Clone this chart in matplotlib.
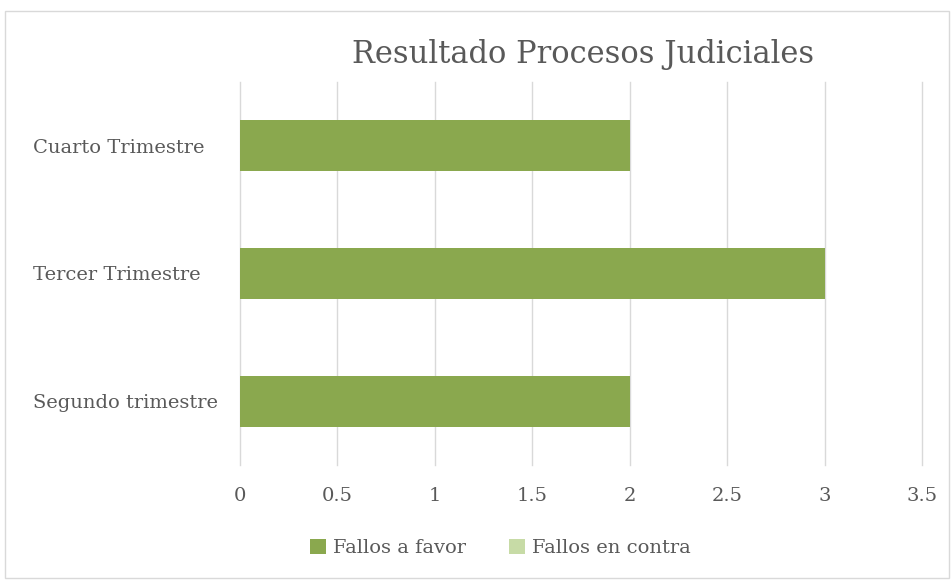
import matplotlib.pyplot as plt
from matplotlib.patches import Rectangle

# Datos
trimestres = ["Segundo trimestre", "Tercer Trimestre", "Cuarto Trimestre"]
fallos_favor = [2, 3, 2]
fallos_contra = [0, 0, 0]
ticks_x = [0, 0.5, 1, 1.5, 2, 2.5, 3, 3.5]

plt.rcParams['font.family'] = ['DejaVu Serif']
gris = '#595959'

fig = plt.figure(figsize=(9.53, 5.83), dpi=100)
ax = fig.add_axes([240 / 953, 1 - 465 / 583, (922 - 240) / 953, (465 - 82) / 583])

# Marco del gráfico
fig.patches.append(Rectangle((5 / 953, 5 / 583), 944 / 953, 567 / 583, transform=fig.transFigure,
                             fill=False, edgecolor='#d9d9d9', linewidth=1))

y = list(range(len(trimestres)))
ax.barh(y, fallos_favor, height=0.4, color='#8aa84e', label='Fallos a favor', zorder=3)
ax.barh(y, fallos_contra, height=0.4, left=fallos_favor, color='#c7dba6', label='Fallos en contra', zorder=3)

ax.set_xlim(0, 3.5)
ax.set_ylim(-0.5, 2.5)
ax.set_xticks(ticks_x)
ax.set_xticklabels([f"{t:g}" for t in ticks_x])
ax.set_yticks(y)
ax.set_yticklabels(trimestres)
ax.grid(axis='x', color='#d9d9d9', linewidth=1, zorder=0)
for g in ax.get_xgridlines():
    g.set_clip_on(False)
for s in ax.spines.values():
    s.set_visible(False)
ax.tick_params(axis='both', length=0, colors=gris, labelsize=14)
ax.tick_params(axis='x', pad=16)
ax.tick_params(axis='y', pad=0)
for lbl in ax.get_yticklabels():
    lbl.set_horizontalalignment('left')
    lbl.set_x(-(240 - 33) / (922 - 240))

fig.text(0.612, 1 - 55 / 583, "Resultado Procesos Judiciales", ha='center', va='center',
         fontsize=22, color=gris)

fig.legend(loc='center', bbox_to_anchor=(0.525, 1 - 548 / 583), ncol=2, frameon=False,
           fontsize=14, labelcolor=gris, handlelength=0.85, handleheight=0.85,
           handletextpad=0.35, columnspacing=2.2)

plt.savefig('out.png', dpi=100)
